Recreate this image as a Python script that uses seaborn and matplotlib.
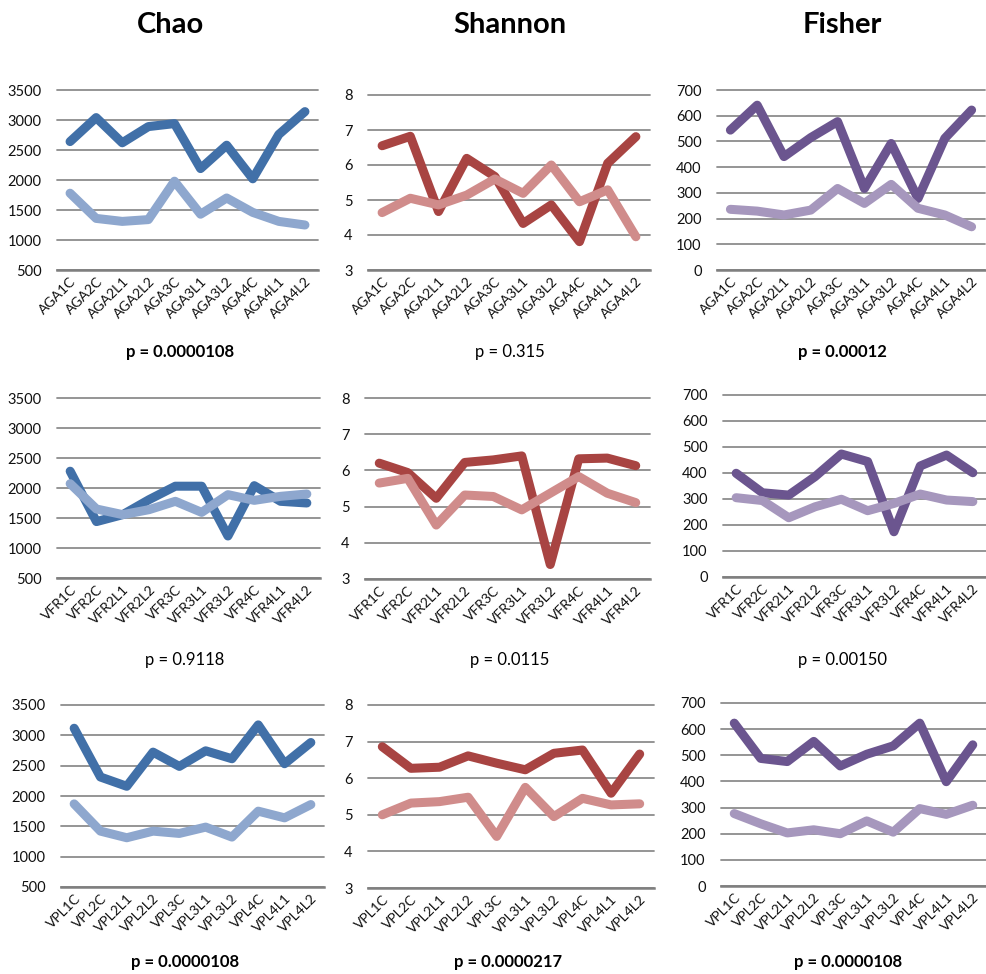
import numpy as np
import pandas as pd
import matplotlib
matplotlib.use("Agg")
import matplotlib.pyplot as plt
import seaborn as sns

sns.set_theme(style="white")
plt.rcParams["font.family"] = ["Lato", "DejaVu Sans"]

# Sample names for each site
aga_labels = ["AGA1C", "AGA2C", "AGA2L1", "AGA2L2", "AGA3C", "AGA3L1", "AGA3L2", "AGA4C", "AGA4L1", "AGA4L2"]
vfr_labels = ["VFR1C", "VFR2C", "VFR2L1", "VFR2L2", "VFR3C", "VFR3L1", "VFR3L2", "VFR4C", "VFR4L1", "VFR4L2"]
vpl_labels = ["VPL1C", "VPL2C", "VPL2L1", "VPL2L2", "VPL3C", "VPL3L1", "VPL3L2", "VPL4C", "VPL4L1", "VPL4L2"]

# Chao richness
chao_aga_hi = [2640, 3040, 2620, 2890, 2940, 2190, 2580, 2020, 2760, 3140]
chao_aga_lo = [1780, 1360, 1310, 1340, 1980, 1430, 1700, 1460, 1310, 1250]
chao_vfr_hi = [2280, 1440, 1556, 1806, 2030, 2030, 1200, 2039, 1778, 1750]
chao_vfr_lo = [2072, 1650, 1556, 1639, 1778, 1594, 1889, 1794, 1861, 1900]
chao_vpl_hi = [3117, 2313, 2160, 2723, 2488, 2745, 2614, 3172, 2532, 2882]
chao_vpl_lo = [1870, 1421, 1312, 1421, 1383, 1487, 1323, 1750, 1640, 1859]

# Shannon diversity
shan_aga_hi = [6.55, 6.82, 4.67, 6.19, 5.67, 4.33, 4.86, 3.81, 6.05, 6.81]
shan_aga_lo = [4.64, 5.05, 4.86, 5.14, 5.60, 5.19, 6.00, 4.95, 5.29, 3.95]
shan_vfr_hi = [6.20, 5.94, 5.23, 6.22, 6.29, 6.40, 3.40, 6.32, 6.34, 6.13]
shan_vfr_lo = [5.65, 5.78, 4.49, 5.32, 5.28, 4.91, 5.37, 5.83, 5.37, 5.11]
shan_vpl_hi = [6.86, 6.27, 6.30, 6.61, 6.41, 6.23, 6.68, 6.77, 5.59, 6.66]
shan_vpl_lo = [5.00, 5.32, 5.36, 5.48, 4.41, 5.75, 4.95, 5.45, 5.27, 5.30]

# Fisher's alpha
fish_aga_hi = [544, 641, 441, 515, 577, 317, 492, 278, 512, 622]
fish_aga_lo = [236, 229, 214, 233, 317, 259, 333, 240, 214, 168]
fish_vfr_hi = [399, 324, 315, 386, 473, 444, 174, 427, 469, 401]
fish_vfr_lo = [305, 294, 228, 270, 299, 255, 283, 319, 296, 290]
fish_vpl_hi = [623, 488, 476, 553, 459, 504, 536, 623, 399, 540]
fish_vpl_lo = [277, 238, 203, 215, 200, 249, 206, 296, 274, 309]

titles = ["Chao", "Shannon", "Fisher"]
p_texts = [
    ["p = 0.0000108", "p = 0.315", "p = 0.00012"],
    ["p = 0.9118", "p = 0.0115", "p = 0.00150"],
    ["p = 0.0000108", "p = 0.0000217", "p = 0.0000108"],
]
p_bold = [
    [True, False, True],
    [False, False, False],
    [True, True, True],
]

palettes = [
    ("#4170A8", "#8EA7CE"),
    ("#A84442", "#D08C8B"),
    ("#6B558F", "#A697BD"),
]
y_ranges = [(500, 3500, 500), (3, 8, 1), (0, 700, 100)]

rows = [
    (aga_labels, [(chao_aga_hi, chao_aga_lo), (shan_aga_hi, shan_aga_lo), (fish_aga_hi, fish_aga_lo)]),
    (vfr_labels, [(chao_vfr_hi, chao_vfr_lo), (shan_vfr_hi, shan_vfr_lo), (fish_vfr_hi, fish_vfr_lo)]),
    (vpl_labels, [(chao_vpl_hi, chao_vpl_lo), (shan_vpl_hi, shan_vpl_lo), (fish_vpl_hi, fish_vpl_lo)]),
]

W, H = 986, 974
fig = plt.figure(figsize=(W / 100, H / 100), dpi=100)
fig.patch.set_facecolor("white")

# panel boxes in pixels: (left, right, top, bottom)
boxes = [
    [(57, 318, 90, 270), (368, 650, 95, 270), (717, 985, 90, 270)],
    [(57, 320, 398, 578), (365, 650, 398, 579), (723, 986, 395, 577)],
    [(61, 324, 705, 887), (368, 654, 705, 888), (721, 986, 703, 886)],
]
p_pos = [
    [(180, 352), (510, 352), (842, 352)],
    [(185, 660), (510, 660), (842, 660)],
    [(185, 962), (508, 962), (848, 962)],
]
title_x = [170, 510, 842]

grid_col = "#8C8C8C"

for r, (labels, panels) in enumerate(rows):
    for c, (hi, lo) in enumerate(panels):
        l, rgt, t, b = boxes[r][c]
        ax = fig.add_axes([l / W, 1 - b / H, (rgt - l) / W, (b - t) / H])
        df = pd.DataFrame({
            "sample": labels * 2,
            "value": list(hi) + list(lo),
            "series": ["hi"] * len(labels) + ["lo"] * len(labels),
        })
        sns.lineplot(
            data=df, x="sample", y="value", hue="series",
            palette={"hi": palettes[c][0], "lo": palettes[c][1]},
            sort=False, legend=False, linewidth=6.5, ax=ax,
            solid_capstyle="round", solid_joinstyle="round", zorder=3,
        )
        lo_y, hi_y, step = y_ranges[c]
        ax.set_ylim(lo_y, hi_y)
        ax.set_yticks(np.arange(lo_y, hi_y + step / 2, step))
        ax.set_xlim(-0.5, len(labels) - 0.5)
        ax.set_xticks(range(len(labels)))
        ax.set_xticklabels(labels, rotation=45, ha="right", rotation_mode="anchor", fontsize=10)
        ax.tick_params(axis="x", length=0, pad=4)
        ax.tick_params(axis="y", length=0, pad=11, labelsize=10.5)
        ax.grid(axis="y", color=grid_col, linewidth=1.3)
        ax.grid(axis="x", visible=False)
        for gl in ax.get_ygridlines():
            gl.set_clip_on(False)
        for side in ["top", "right", "left"]:
            ax.spines[side].set_visible(False)
        ax.spines["bottom"].set_color("#7F7F7F")
        ax.spines["bottom"].set_linewidth(1.8)
        ax.set_xlabel("")
        ax.set_ylabel("")
        ax.set_facecolor("none")
        for lab in ax.get_xticklabels() + ax.get_yticklabels():
            lab.set_color("#111111")

        px, py = p_pos[r][c]
        fig.text(px / W, 1 - py / H, p_texts[r][c], ha="center", va="center",
                 fontsize=12, fontweight="bold" if p_bold[r][c] else "normal", color="#000000")

for c in range(3):
    fig.text(title_x[c] / W, 1 - 25 / H, titles[c], ha="center", va="center",
             fontsize=21, fontweight="bold", color="#000000")

fig.savefig("out.png", dpi=100, facecolor="white")
